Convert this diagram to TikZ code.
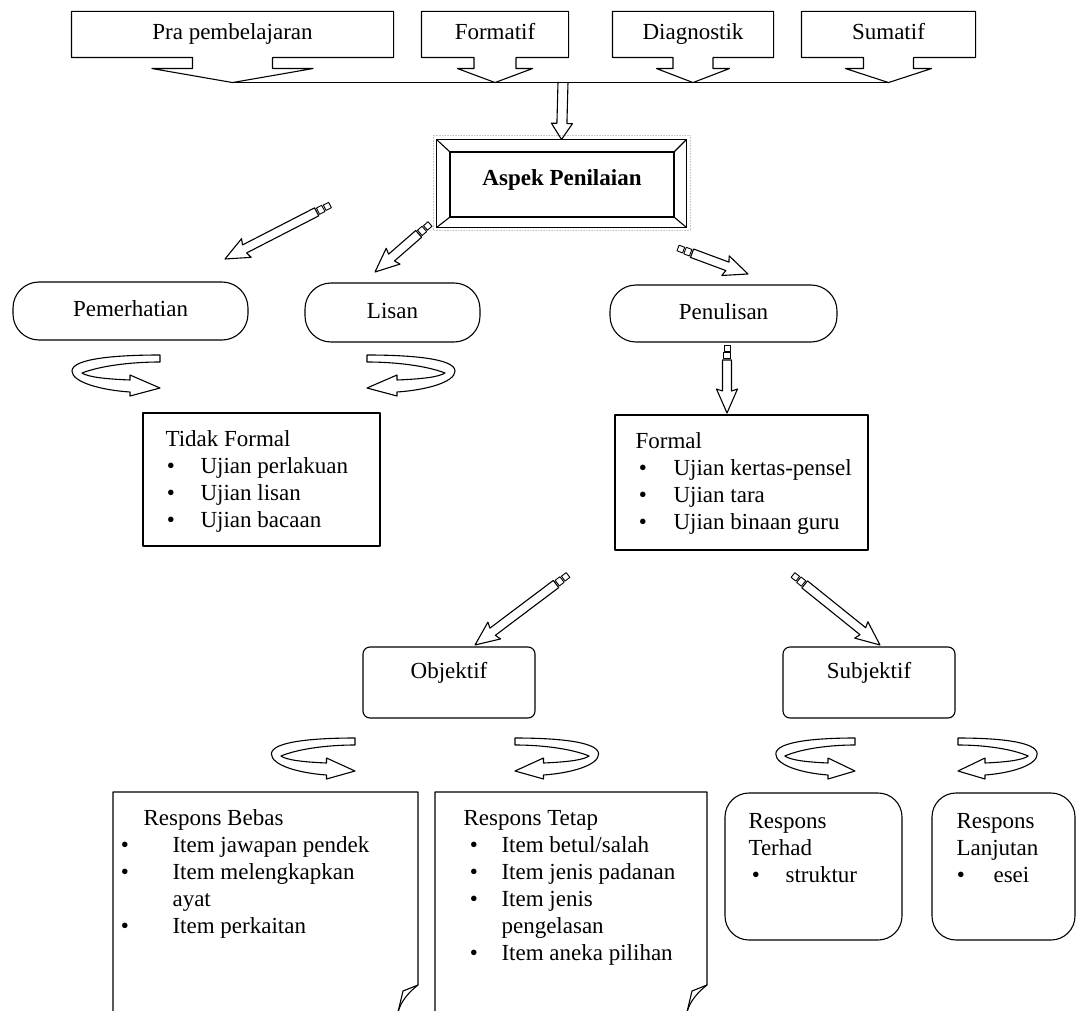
\documentclass[tikz,border=0pt]{standalone}
\usepackage{fontspec}
\setmainfont{Liberation Serif}
\usetikzlibrary{calc}
\newcommand\fs{\fontsize{23}{27}\selectfont}
\newcommand\callout[4]{%
  \draw (#1.north west) -- (#1.north east) -- (#1.south east)
   -- ($(#1.south)+(#2,0)$) -- ($(#1.south)+(#2,11)$) -- ($(#1.south)+(#3,11)$)
   -- ($(#1.south)+(0,#4)$) coordinate (#1tip)
   -- ($(#1.south)+(-#3,11)$) -- ($(#1.south)+(-#2,11)$) -- ($(#1.south)+(-#2,0)$)
   -- (#1.south west) -- cycle;}
\newcommand\blockarrow[3]{%
  \path (#1); \pgfgetlastxy{\ax}{\ay}%
  \path (#2); \pgfgetlastxy{\bx}{\by}%
  \pgfmathsetmacro\ang{atan2((\by)-(\ay),(\bx)-(\ax))}%
  \pgfmathsetmacro\len{veclen((\bx)-(\ax),(\by)-(\ay))}%
  \begin{scope}[shift={(\ax,\ay)},rotate=\ang]
  \ifnum#3=1
    \draw[line width=0.9pt] (0,-3) rectangle (6,3);
    \draw[line width=0.9pt] (7.5,-3.5) rectangle (13.5,3.5);
    \draw (15,-4.5) -- ({\len-22},-4.5) -- ({\len-24},-10.5) -- (\len,0)
      -- ({\len-24},10.5) -- ({\len-22},4.5) -- (15,4.5) -- cycle;
  \else
    \draw (0,-5) -- ({\len-16},-5) -- ({\len-16},-10.5) -- (\len,0)
      -- ({\len-16},10.5) -- ({\len-16},5) -- (0,5);
  \fi
  \end{scope}}
\newcommand\ribbon[2]{%
  \begin{scope}[shift={(#1)},xscale=#2]
    \draw (0,-33) .. controls (-40,-33) and (-88,-30) .. (-88,-17)
      .. controls (-88,-6) and (-60,2) .. (-30,4) -- (-30,8) -- (0,0)
      -- (-30,-13) -- (-30,-8)
      .. controls (-55,-9) and (-72,-11) .. (-78,-15)
      .. controls (-60,-22) and (-30,-26) .. (0,-26) -- cycle;
  \end{scope}}
\begin{document}
\begin{tikzpicture}[x=1pt,y=-1pt,line width=1.1pt,line join=round,
  every node/.style={inner sep=0pt},
  lbl/.style={font=\fs,text height=16pt,text depth=5pt},
  t/.style={font=\fs,anchor=base west},
  bul/.style={font=\fs,anchor=base},
  plain/.style={draw,rectangle},
  pill/.style={draw,rounded corners=26pt,font=\fs,text height=16pt,text depth=5pt},
  rbox/.style={draw,rounded corners=7pt},
  sbox/.style={draw,rounded corners=24pt}]
\useasboundingbox (0,0) rectangle (1076,1011);

% ---- top row
\node[lbl,minimum width=321pt,minimum height=45pt] (pra) at (232.5,34.5) {Pra pembelajaran};
\node[lbl,minimum width=146pt,minimum height=45pt] (frm) at (495,34.5) {Formatif};
\node[lbl,minimum width=160pt,minimum height=45pt] (dia) at (693,34.5) {Diagnostik};
\node[lbl,minimum width=173pt,minimum height=45pt] (sum) at (888.5,34.5) {Sumatif};
\callout{pra}{40}{80.5}{25}
\callout{frm}{21}{37.5}{25}
\callout{dia}{20}{36.5}{25}
\callout{sum}{25}{43}{25}
\draw (pratip) -- (sumtip);
\coordinate (hub) at (563,82);

% ---- Aspek Penilaian
\node[minimum width=249pt,minimum height=87pt] (aspek) at (561.5,183.5) {};
\node[font=\fs\bfseries,text height=16pt,text depth=5pt] (aspekt) at (562,180) {Aspek Penilaian};
\draw[gray!45,densely dotted,line width=0.6pt] (433,135) rectangle (690,230);
\draw (aspek.north west) rectangle (aspek.south east);
\draw (450,152) rectangle (674,217);
\draw (aspek.north west) -- (450,152);
\draw (aspek.north east) -- (674,152);
\draw (aspek.south west) -- (450,217);
\draw (aspek.south east) -- (674,217);
\blockarrow{hub}{aspek.north}{0}

% ---- pills
\node[pill,minimum width=235pt,minimum height=58pt] (pem) at (130.5,311) {Pemerhatian};
\node[pill,minimum width=175pt,minimum height=59pt] (lis) at (392.5,312.5) {Lisan};
\node[pill,minimum width=227pt,minimum height=57pt] (pen) at (723.5,313.5) {Penulisan};

\coordinate (a1s) at (330,205); \coordinate (a1e) at (225,259);
\coordinate (a2s) at (430,224); \coordinate (a2e) at (375,272);
\coordinate (a3s) at (678,248); \coordinate (a3e) at (748,274);
\coordinate (a4s) at (727,345); \coordinate (a4e) at (727,413);
\blockarrow{a1s}{a1e}{1}
\blockarrow{a2s}{a2e}{1}
\blockarrow{a3s}{a3e}{1}
\blockarrow{a4s}{a4e}{1}

% ---- ribbons (upper)
\coordinate (r1) at (160,388);
\coordinate (r2) at (367,388);
\ribbon{r1}{1}
\ribbon{r2}{-1}

% ---- Tidak Formal
\node[plain,minimum width=237pt,minimum height=133pt] (tf) at (261.5,479.5) {};
\node[t] (tf0) at (165,446) {Tidak Formal};
\node[bul] (tf1b) at (171,473) {\textbullet};
\node[t] (tf1) at (200,473) {Ujian perlakuan};
\node[bul] (tf2b) at (171,500) {\textbullet};
\node[t] (tf2) at (200,500) {Ujian lisan};
\node[bul] (tf3b) at (171,527) {\textbullet};
\node[t] (tf3) at (200,527) {Ujian bacaan};

% ---- Formal
\node[plain,minimum width=253pt,minimum height=135pt] (fm) at (741.5,482.5) {};
\node[t] (fm0) at (635,448) {Formal};
\node[bul] (fm1b) at (643,475) {\textbullet};
\node[t] (fm1) at (673,475) {Ujian kertas-pensel};
\node[bul] (fm2b) at (643,502) {\textbullet};
\node[t] (fm2) at (673,502) {Ujian tara};
\node[bul] (fm3b) at (643,529) {\textbullet};
\node[t] (fm3) at (673,529) {Ujian binaan guru};

% ---- Objektif / Subjektif
\node[rbox,minimum width=172pt,minimum height=71pt] (obj) at (449,682.5) {};
\node[lbl] (objt) at (449,673) {Objektif};
\node[rbox,minimum width=172pt,minimum height=71pt] (sub) at (869,682.5) {};
\node[lbl] (subt) at (869,673) {Subjektif};
\coordinate (a5s) at (568,575); \coordinate (a5e) at (475,645);
\coordinate (a6s) at (793,575); \coordinate (a6e) at (880,645);
\blockarrow{a5s}{a5e}{1}
\blockarrow{a6s}{a6e}{1}

% ---- ribbons (lower)
\coordinate (r3) at (355,771);
\coordinate (r4) at (515,771);
\coordinate (r5) at (855,771);
\coordinate (r6) at (958,771);
\ribbon{r3}{0.95}
\ribbon{r4}{-0.95}
\ribbon{r5}{0.9}
\ribbon{r6}{-0.9}

% ---- Respons Bebas
\draw (113,1012) -- (113,792) -- (418,792) -- (418,985)
  .. controls (409,992) and (401,1001) .. (398,1012);
\draw (418,985) .. controls (410,988) .. (403,991) -- (398,1012);
\node[t] (bb0) at (143,825) {Respons Bebas};
\node[bul] (bb1b) at (125,852) {\textbullet};
\node[t] (bb1) at (172,852) {Item jawapan pendek};
\node[bul] (bb2b) at (125,879) {\textbullet};
\node[t] (bb2) at (172,879) {Item melengkapkan};
\node[t] (bb2c) at (172,906) {ayat};
\node[bul] (bb3b) at (125,933) {\textbullet};
\node[t] (bb3) at (172,933) {Item perkaitan};

% ---- Respons Tetap
\draw (435,1012) -- (435,792) -- (707,792) -- (707,985)
  .. controls (698,992) and (690,1001) .. (687,1012);
\draw (707,985) .. controls (699,988) .. (692,991) -- (687,1012);
\node[t] (tt0) at (463,825) {Respons Tetap};
\node[bul] (tt1b) at (474,852) {\textbullet};
\node[t] (tt1) at (501,852) {Item betul/salah};
\node[bul] (tt2b) at (474,879) {\textbullet};
\node[t] (tt2) at (501,879) {Item jenis padanan};
\node[bul] (tt3b) at (474,906) {\textbullet};
\node[t] (tt3) at (501,906) {Item jenis};
\node[t] (tt3c) at (501,933) {pengelasan};
\node[bul] (tt4b) at (474,960) {\textbullet};
\node[t] (tt4) at (501,960) {Item aneka pilihan};

% ---- Respons Terhad / Lanjutan
\node[sbox,minimum width=177pt,minimum height=147pt] (ter) at (813.5,866.5) {};
\node[t] (ter0) at (748,828) {Respons};
\node[t] (ter1) at (748,855) {Terhad};
\node[bul] (ter2b) at (756,882) {\textbullet};
\node[t] (ter2) at (785,882) {struktur};
\node[sbox,minimum width=143pt,minimum height=147pt] (lan) at (1003.5,866.5) {};
\node[t] (lan0) at (956,828) {Respons};
\node[t] (lan1) at (956,855) {Lanjutan};
\node[bul] (lan2b) at (961,882) {\textbullet};
\node[t] (lan2) at (993,882) {esei};
\end{tikzpicture}
\end{document}
